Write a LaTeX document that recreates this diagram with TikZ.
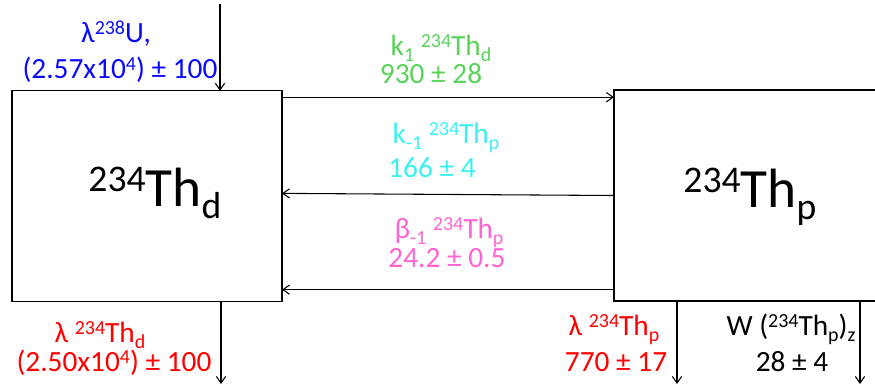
\documentclass[tikz,border=0pt]{standalone}
\usepackage{fontspec}
\setmainfont{Carlito}
\usepackage{graphicx}
\usepackage{tikz}
\usetikzlibrary{arrows.meta,calc,positioning}

\definecolor{rateblue}{RGB}{10,10,250}
\definecolor{rategreen}{RGB}{90,210,90}
\definecolor{ratecyan}{RGB}{60,240,240}
\definecolor{ratepink}{RGB}{255,100,210}

\newcommand{\tsup}[1]{\raisebox{0.27em}{\scalebox{0.68}{#1}}}
\newcommand{\tsub}[1]{\raisebox{-0.22em}{\scalebox{0.68}{#1}}}

\begin{document}
\begin{tikzpicture}[
    x=0.75pt,
    y=-0.75pt,
    >={Straight Barb[length=5pt,width=7pt]},
    pool/.style={draw, line width=0.9pt, rectangle, inner sep=0pt, outer sep=0pt, minimum height=158.25pt},
    big/.style={anchor=base, inner sep=0pt, font=\fontsize{41.5}{48}\selectfont},
    rate/.style={anchor=base, inner sep=0pt, font=\fontsize{22}{26}\selectfont},
    line/.style={->, line width=0.8pt}
]
\useasboundingbox (0,0) rectangle (875,387);
\node[pool, minimum width=202.5pt] (thd) at (147,196.3) {};
\node[pool, minimum width=199.5pt] (thp) at (747,195.5) {};
\node[big] (thdlbl) at (155,206) {\tsup{234}Th\tsub{d}};
\node[big] (thplbl) at (750,207) {\tsup{234}Th\tsub{p}};

\node[rate, text=rateblue] (ua) at (116,42) {λ\tsup{238}U,};
\node[rate, text=rateblue] (ub) at (120,78) {(2.57x10\tsup{4}) ± 100};
\node[rate, text=rategreen] (kfa) at (441,55) {k\tsub{1} \tsup{234}Th\tsub{d}};
\node[rate, text=rategreen] (kfb) at (431,83) {930 ± 28};
\node[rate, text=ratecyan] (kra) at (446,143) {k\tsub{-1} \tsup{234}Th\tsub{p}};
\node[rate, text=ratecyan] (krb) at (432,177) {166 ± 4};
\node[rate, text=ratepink] (bra) at (449,238) {β\tsub{-1} \tsup{234}Th\tsub{p}};
\node[rate, text=ratepink] (brb) at (447,267) {24.2 ± 0.5};
\node[rate, text=red] (lda) at (100,342) {λ \tsup{234}Th\tsub{d}};
\node[rate, text=red] (ldb) at (114,371) {(2.50x10\tsup{4}) ± 100};
\node[rate, text=red] (lpa) at (614,335) {λ \tsup{234}Th\tsub{p}};
\node[rate, text=red] (lpb) at (616,371) {770 ± 17};
\node[rate] (wa) at (791,335) {W (\tsup{234}Th\tsub{p})\tsub{z}};
\node[rate] (wb) at (792,371) {28 ± 4};

\coordinate (srcu) at (220,4);
\coordinate (sinkd) at (221,384);
\coordinate (sinkp) at (677,384);
\coordinate (sinkz) at (860,384);

\draw[line] (srcu) -- (srcu |- thd.north);
\draw[line] ([yshift=-4.8pt]thd.north east) -- ([yshift=-4.8pt]thd.north east -| thp.west);
\draw[line] ([yshift=0pt]thp.west) -- ([yshift=2.2pt]thd.east);
\draw[line] ([yshift=8.5pt]thp.south west) -- ([yshift=8.5pt]thp.south west -| thd.east);
\draw[line] (sinkd |- thd.south) -- (sinkd);
\draw[line] (sinkp |- thp.south) -- (sinkp);
\draw[line] (sinkz |- thp.south) -- (sinkz);
\end{tikzpicture}
\end{document}
